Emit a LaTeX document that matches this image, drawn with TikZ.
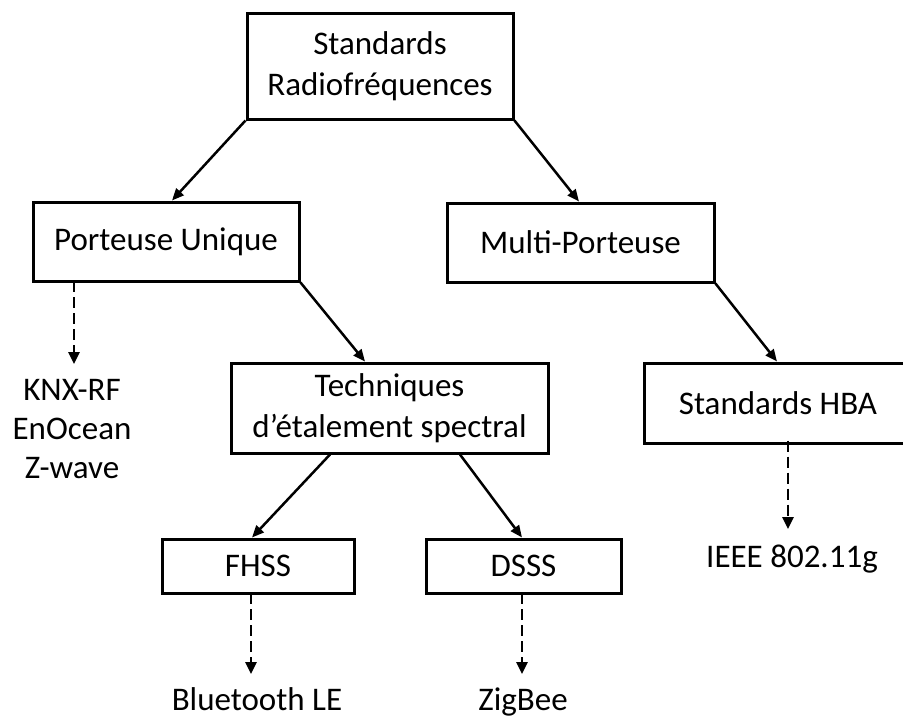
\documentclass[tikz,border=0pt]{standalone}
\usepackage{fontspec}
\setmainfont{Carlito}
\usetikzlibrary{arrows.meta}
\begin{document}
\begin{tikzpicture}[x=1pt,y=-1pt,
  box/.style={draw=black,line width=3pt,rectangle,inner sep=0pt,align=center,
    font=\fontsize{33}{41}\selectfont},
  lbl/.style={inner sep=0pt,align=center,font=\fontsize{33}{39}\selectfont},
  link/.style={line width=2.5pt,-{Triangle[length=12pt,width=10pt]}},
  dlink/.style={line width=2.5pt,dash pattern=on 11pt off 5pt,-{Triangle[length=12pt,width=11pt]}}]
\useasboundingbox (0,0) rectangle (903,718);
\clip (0,0) rectangle (903,718);
\node[box,minimum width=266pt,minimum height=106pt] (top) at (380,66) {Standards\\Radiofréquences};
\node[box,minimum width=266pt,minimum height=79pt] (pu) at (166,241.5) {Porteuse Unique};
\node[box,minimum width=267pt,minimum height=79pt] (mp) at (580.5,242.5) {Multi-Porteuse};
\node[box,minimum width=317pt,minimum height=90pt] (tech) at (389.5,408) {Techniques\\d’étalement spectral};
\node[box,minimum width=268pt,minimum height=80pt] (hba) at (778,403) {Standards HBA};
\node[box,minimum width=192pt,minimum height=54pt] (fhss) at (258,566) {FHSS};
\node[box,minimum width=195pt,minimum height=54pt] (dsss) at (523.5,566) {DSSS};
\node[lbl,anchor=base] (knx) at (72,478) {KNX-RF\\EnOcean\\Z-wave};
\node[lbl,anchor=base] (ieee) at (792,567) {IEEE 802.11g};
\node[lbl,anchor=base] (bt) at (257,710) {Bluetooth LE};
\node[lbl,anchor=base] (zb) at (523,710) {ZigBee};
\coordinate (tknx) at (74,364);
\coordinate (tieee) at (788,529);
\coordinate (tbt) at (251,674);
\coordinate (tzb) at (522,674);
\draw[link] (top.south west) -- ([xshift=6pt]pu.north);
\draw[link] (top.south east) -- ([xshift=-1.5pt]mp.north);
\draw[link] (pu.south east) -- ([xshift=-24.5pt]tech.north);
\draw[link] (mp.south east) -- ([xshift=-1pt]hba.north);
\draw[link] ([xshift=-59.5pt]tech.south) -- ([xshift=-6pt]fhss.north);
\draw[link] ([xshift=70.5pt]tech.south) -- ([xshift=-1.5pt]dsss.north);
\draw[dlink] ([xshift=-92pt,yshift=1.5pt]pu.south) -- (tknx);
\draw[dlink] ([xshift=10pt,yshift=4pt]hba.south) -- (tieee);
\draw[dlink] ([xshift=-7pt,yshift=1.5pt]fhss.south) -- (tbt);
\draw[dlink] ([xshift=-1.5pt,yshift=1.5pt]dsss.south) -- (tzb);
\end{tikzpicture}
\end{document}
